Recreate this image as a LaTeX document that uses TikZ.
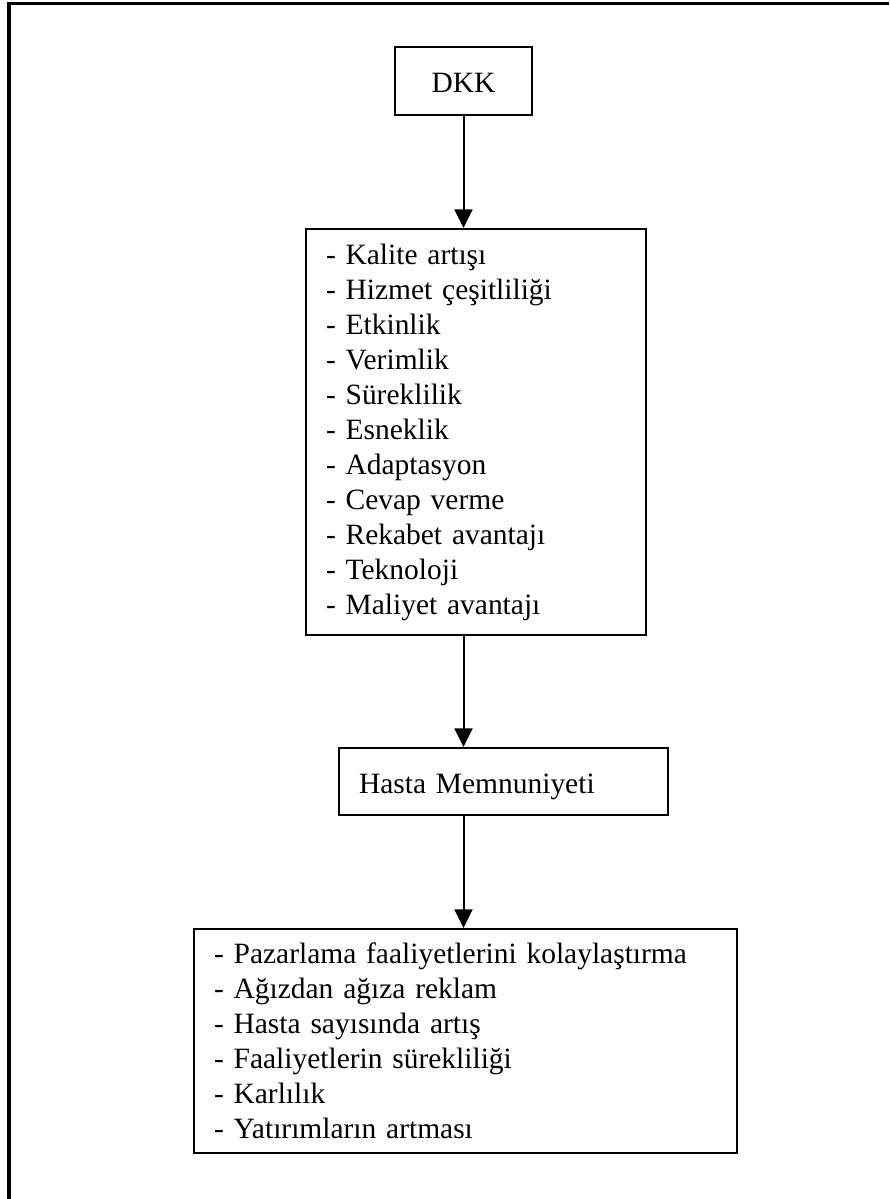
\documentclass[tikz,border=0pt]{standalone}
\usepackage{fontspec}
\setmainfont{Liberation Serif}
\usetikzlibrary{arrows.meta}

\tikzset{
  box/.style={draw=black, line width=1.5pt, inner ysep=0pt, inner xsep=15pt,
              font=\fontsize{22.1pt}{26.25pt}\selectfont, align=left},
  flow/.style={draw=black, line width=1.5pt,
               -{Triangle[length=14pt,width=13.5pt]}},
  frameline/.style={draw=black, line width=2.4pt}
}

\begin{document}
\begin{tikzpicture}[x=0.75pt,y=-0.75pt]
  \useasboundingbox (0,0) rectangle (889,1199);

  % page frame: top and left rules
  \draw[frameline] (9,1199) -- (9,3.5) -- (889,3.5);

  % boxes
  \node[box, align=center, minimum width=102.75pt, anchor=base,
        text height=33.75pt, text depth=17.25pt]
    (dkk) at (463.5,92) {DKK};

  \node[box, anchor=north west, text width=225pt, minimum height=304.5pt]
    (gains) at (305,228) {- Kalite artışı\\
      - Hizmet çeşitliliği\\
      - Etkinlik\\
      - Verimlik\\
      - Süreklilik\\
      - Esneklik\\
      - Adaptasyon\\
      - Cevap verme\\
      - Rekabet avantajı\\
      - Teknoloji\\
      - Maliyet avantajı};

  \node[box, anchor=north west, text width=216.75pt,
        text height=33.75pt, text depth=16.5pt]
    (hasta) at (338,747) {Hasta Memnuniyeti};

  \node[box, anchor=north west, text width=377.25pt, minimum height=168pt]
    (results) at (193,928) {- Pazarlama faaliyetlerini kolaylaştırma\\
      - Ağızdan ağıza reklam\\
      - Hasta sayısında artış\\
      - Faaliyetlerin sürekliliği\\
      - Karlılık\\
      - Yatırımların artması};

  % connectors
  \draw[flow] (dkk.south) -- (dkk.south |- gains.north);
  \draw[flow] (dkk.south |- gains.south) -- (dkk.south |- hasta.north);
  \draw[flow] (dkk.south |- hasta.south) -- (dkk.south |- results.north);
\end{tikzpicture}
\end{document}
